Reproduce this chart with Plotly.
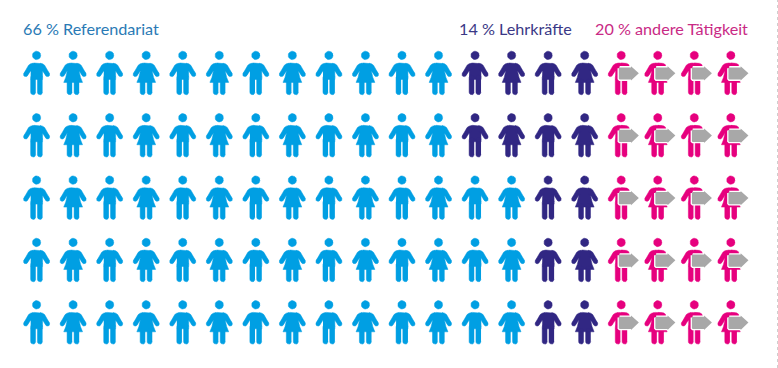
import numpy as np
import plotly.graph_objects as go

# --- data ---
labels = ["66 % Referendariat", "14 % Lehrkräfte", "20 % andere Tätigkeit"]
referendariat_per_row = [12, 12, 14, 14, 14]
lehrkraefte_per_row = [4, 4, 2, 2, 2]
andere_per_row = [4, 4, 4, 4, 4]

BLUE, PURPLE, PINK, GREY = "#009fe3", "#312783", "#e6007e", "#a8a8a8"
TEXT_COLORS = ["#2a7ab5", "#3a3886", "#c92a85"]

# --- scales: pixels per column / row in the 778x368 picture ---
W, H = 778, 368
X0, DX = 36.6, 36.54
Y0, DY = 55.4, 62.35


# --- pictogram geometry (pixel offsets from the head centre, y downwards) ---
def circle(cx, cy, r, n=20):
    t = np.linspace(0, 2 * np.pi, n, endpoint=False)
    return list(zip(cx + r * np.cos(t), cy + r * np.sin(t)))


def capsule(x0, y0, x1, y1, r, n=8):
    a = np.arctan2(y1 - y0, x1 - x0)
    pts = []
    for t in np.linspace(a - np.pi / 2, a + np.pi / 2, n):
        pts.append((x1 + r * np.cos(t), y1 + r * np.sin(t)))
    for t in np.linspace(a + np.pi / 2, a + 3 * np.pi / 2, n):
        pts.append((x0 + r * np.cos(t), y0 + r * np.sin(t)))
    return pts


def mirror(poly):
    return [(-x, y) for x, y in poly]


def orient(poly):
    p = np.array(poly)
    area = np.sum(p[:, 0] * np.roll(p[:, 1], -1) - np.roll(p[:, 0], -1) * p[:, 1])
    return poly if area > 0 else poly[::-1]


HEAD = circle(0, 0, 4.2)
ARM_R = capsule(10.6, 18.2, 11, 19.2, 2.1)
ARM_L = mirror(ARM_R)
WEDGE_R = [(3.5, 7.8), (6.0, 8.4), (8.0, 9.8), (12.95, 18.4), (9.2, 20.3), (6.0, 15.5), (3.5, 14)]
WEDGE_L = mirror(WEDGE_R)
LEGS_M = [capsule(-3.4, 22, -3.4, 36.8, 2.55), capsule(3.4, 22, 3.4, 36.8, 2.55)]
LEGS_F = [capsule(-3.5, 26, -3.5, 36.8, 2.55), capsule(3.5, 26, 3.5, 36.8, 2.55)]
TORSO_M = [(-5.8, 10), (-4.2, 8.2), (-2.5, 7.6), (2.5, 7.6), (4.2, 8.2), (5.8, 10),
           (6.0, 24), (-6.0, 24)]
TORSO_F = [(-5.6, 10), (-4.2, 8.2), (-2.2, 7.6), (2.2, 7.6), (4.2, 8.2), (5.6, 10),
           (6.0, 16), (7.4, 22), (9.4, 27), (-9.4, 27), (-7.4, 22), (-6.0, 16)]
SHOULDER = [(0, 7.6), (3, 7.6), (5.5, 8.0), (7.5, 9.2), (8.2, 11.5), (0, 13)]

MALE = [HEAD, ARM_L, ARM_R, WEDGE_L, WEDGE_R, TORSO_M] + LEGS_M
FEMALE = [HEAD, ARM_L, ARM_R, WEDGE_L, WEDGE_R, TORSO_F] + LEGS_F
MALE_LEAVING = [HEAD, ARM_L, WEDGE_L, SHOULDER, TORSO_M] + LEGS_M
FEMALE_LEAVING = [HEAD, ARM_L, WEDGE_L, SHOULDER, TORSO_F] + LEGS_F
ARROW = [(-1.6, 12.0), (9.8, 12.0), (9.8, 10.8), (17.6, 17.8), (9.8, 25.2), (9.8, 24.2),
         (-1.6, 24.2), (-2.4, 23.4), (-2.4, 12.8)]


def place(polys, cols, rows):
    xs, ys = [], []
    for c, r in zip(cols, rows):
        for poly in polys:
            for px, py in orient(poly):
                xs.append(c + px / DX)
                ys.append(r + py / DY)
            xs.append(None)
            ys.append(None)
    return xs, ys


def cells(first_col_per_row, count_per_row):
    out = []
    for r, (first, n) in enumerate(zip(first_col_per_row, count_per_row)):
        out += [(first + i, r) for i in range(n)]
    return out


def add_people(fig, cell_list, male_glyph, female_glyph, color):
    male = [c for c in cell_list if c[0] % 2 == 0]
    female = [c for c in cell_list if c[0] % 2 == 1]
    for group, glyph in ((male, male_glyph), (female, female_glyph)):
        xs, ys = place(glyph, [c[0] for c in group], [c[1] for c in group])
        fig.add_trace(go.Scatter(x=xs, y=ys, mode="lines", fill="toself", fillcolor=color,
                                 line=dict(width=0.5, color=color), hoverinfo="skip",
                                 showlegend=False))


fig = go.Figure()
zeros = [0] * len(referendariat_per_row)
second = referendariat_per_row
third = [a + b for a, b in zip(referendariat_per_row, lehrkraefte_per_row)]

add_people(fig, cells(zeros, referendariat_per_row), MALE, FEMALE, BLUE)
add_people(fig, cells(second, lehrkraefte_per_row), MALE, FEMALE, PURPLE)
leaving = cells(third, andere_per_row)
add_people(fig, leaving, MALE_LEAVING, FEMALE_LEAVING, PINK)

ax, ay = place([ARROW], [c[0] for c in leaving], [c[1] for c in leaving])
fig.add_trace(go.Scatter(x=ax, y=ay, mode="lines", fill="toself", fillcolor="white",
                         line=dict(width=2.6, color="white"), hoverinfo="skip", showlegend=False))
fig.add_trace(go.Scatter(x=ax, y=ay, mode="lines", fill="toself", fillcolor=GREY,
                         line=dict(width=0, color=GREY), hoverinfo="skip", showlegend=False))

for text, px, anchor, color in zip(labels, (21, 574, 750), ("left", "right", "right"), TEXT_COLORS):
    fig.add_annotation(text=text, x=px / W, y=1 - 28 / H, xref="paper", yref="paper",
                       xanchor=anchor, yanchor="middle", showarrow=False,
                       font=dict(family="Lato", size=16.2, color=color))

fig.add_shape(type="line", xref="paper", yref="paper", x0=777.5 / W, x1=777.5 / W, y0=0, y1=1,
              line=dict(color="#cfcfcf", width=1, dash="dot"))

fig.update_xaxes(visible=False, range=[-X0 / DX, (W - X0) / DX])
fig.update_yaxes(visible=False, range=[(H - Y0) / DY, -Y0 / DY])
fig.update_layout(width=W, height=H, margin=dict(l=0, r=0, t=0, b=0),
                  paper_bgcolor="white", plot_bgcolor="white", showlegend=False)

fig.write_html("out.html", config={"displayModeBar": False},
               post_script="document.body.style.margin='0';document.body.style.overflow='hidden';")
